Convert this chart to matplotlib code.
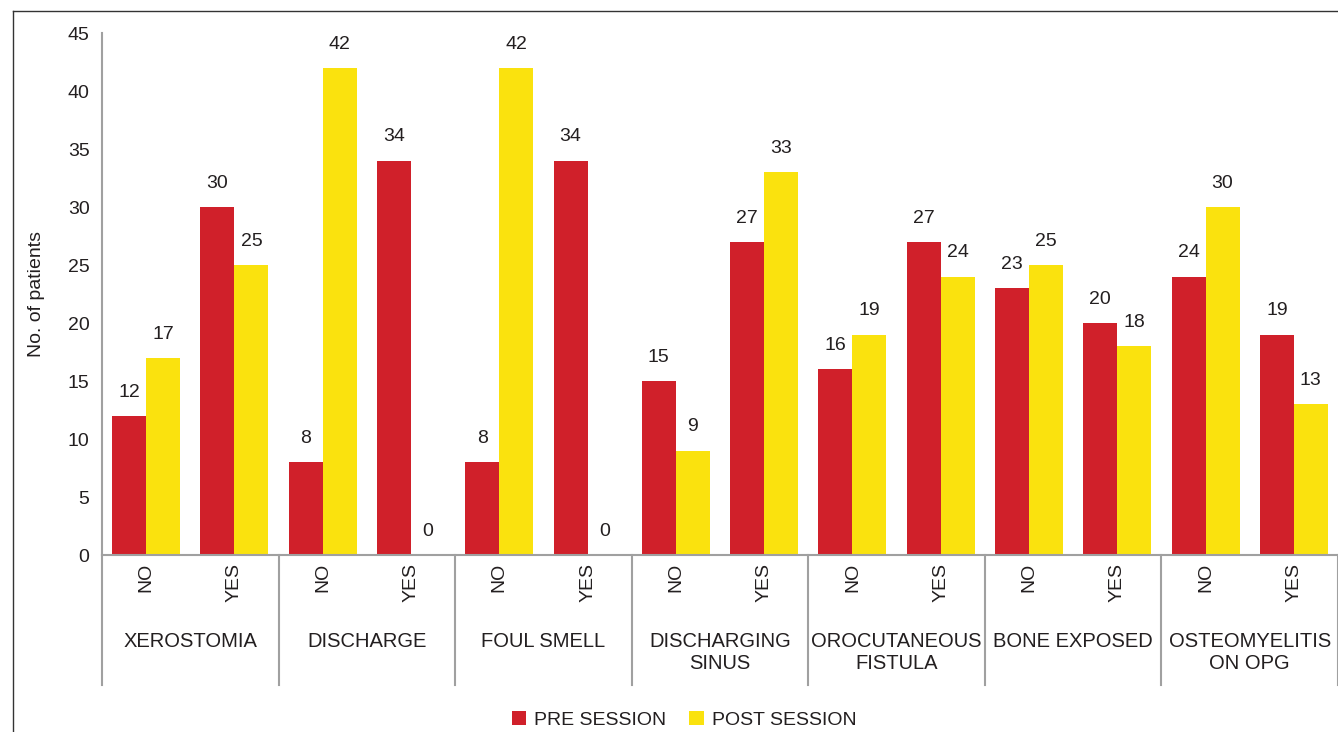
import numpy as np
import matplotlib.pyplot as plt
from matplotlib.lines import Line2D
import matplotlib.transforms as mtransforms

plt.rcParams['font.family'] = ['Liberation Sans', 'DejaVu Sans']

categories = ['XEROSTOMIA', 'DISCHARGE', 'FOUL SMELL', 'DISCHARGING\nSINUS',
              'OROCUTANEOUS\nFISTULA', 'BONE EXPOSED', 'OSTEOMYELITIS\nON OPG']
answers = ['NO', 'YES']
pre_session = [12, 30, 8, 34, 8, 34, 15, 27, 16, 27, 23, 20, 24, 19]
post_session = [17, 25, 42, 0, 42, 0, 9, 33, 19, 24, 25, 18, 30, 13]

red = '#d0202a'
yellow = '#fae20e'
axis_grey = '#a0a0a0'
text_col = '#231f20'

fig = plt.figure(figsize=(13.38, 7.32), dpi=100)
ax = fig.add_axes([102 / 1338, 177 / 732, 1 - 102 / 1338, 522 / 732])

x = np.arange(len(pre_session))
w = 0.385
b1 = ax.bar(x - w / 2, pre_session, w, color=red, label='PRE SESSION')
b2 = ax.bar(x + w / 2, post_session, w, color=yellow, label='POST SESSION')

for bars in (b1, b2):
    for rect in bars:
        h = rect.get_height()
        ax.annotate(str(int(h)), (rect.get_x() + rect.get_width() / 2, h),
                    xytext=(0, 17), textcoords='offset points',
                    ha='center', va='center', fontsize=14, color=text_col)

ax.set_xlim(-0.5, len(x) - 0.5)
ax.set_ylim(0, 45)
ax.set_yticks(range(0, 46, 5))
ax.tick_params(axis='y', length=0, labelsize=14, labelcolor=text_col, pad=9)
ax.set_xticks([])
for s in ('top', 'right'):
    ax.spines[s].set_visible(False)
for s in ('left', 'bottom'):
    ax.spines[s].set_color(axis_grey)
    ax.spines[s].set_linewidth(1.5)

ax.set_ylabel('No. of patients', fontsize=14, color=text_col)
ax.yaxis.set_label_coords(-(102 - 45) / 1236, 0.5)

trans = mtransforms.blended_transform_factory(ax.transData, ax.transAxes)
# NO / YES labels
for i in x:
    ax.text(i, -0.015, answers[i % 2], transform=trans, rotation=90,
            ha='center', va='top', fontsize=14, color=text_col)
# category labels and separators
for j, cat in enumerate(categories):
    ax.text(2 * j + 0.5, -(632 - 555) / 522, cat, transform=trans, ha='center',
            va='top', fontsize=14.5, color=text_col, linespacing=1.2)
for j in range(len(categories) + 1):
    ax.add_line(Line2D([2 * j - 0.5, 2 * j - 0.5], [0, -0.249], transform=trans,
                       color=axis_grey, lw=1.5, clip_on=False))

fig.legend(loc='center', bbox_to_anchor=(684 / 1338, 1 - 720 / 732), ncol=2,
           frameon=False, fontsize=14, handlelength=0.75, handleheight=0.75,
           handletextpad=0.4, columnspacing=1.2, labelcolor=text_col)

# outer frame (top and left)
fig.add_artist(Line2D([13 / 1338, 1], [1 - 11 / 732, 1 - 11 / 732],
                      transform=fig.transFigure, color='#333333', lw=1))
fig.add_artist(Line2D([13 / 1338, 13 / 1338], [0, 1 - 11 / 732],
                      transform=fig.transFigure, color='#333333', lw=1))

fig.savefig('out.png', dpi=100)
